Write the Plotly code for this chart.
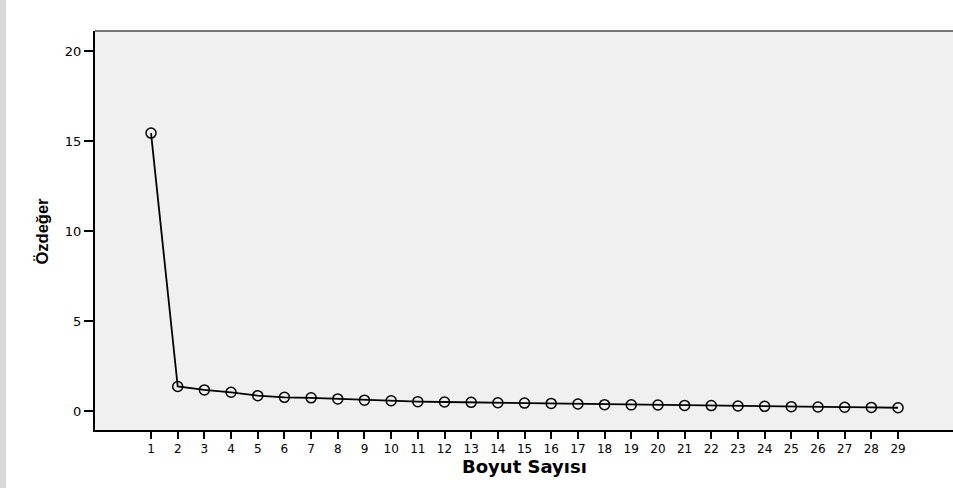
import plotly.graph_objects as go

components = list(range(1, 30))
eigenvalues = [15.44, 1.36, 1.17, 1.04, 0.85, 0.76, 0.73, 0.67, 0.60, 0.57,
               0.52, 0.50, 0.48, 0.46, 0.44, 0.42, 0.39, 0.35, 0.34, 0.33,
               0.31, 0.30, 0.28, 0.26, 0.24, 0.22, 0.21, 0.20, 0.18]
y_ticks = [0, 5, 10, 15, 20]

fig = go.Figure()
fig.add_trace(go.Scatter(
    x=components, y=eigenvalues, mode="lines+markers",
    line=dict(color="black", width=1.8),
    marker=dict(symbol="circle-open", size=10, color="black", line=dict(width=1.5)),
    showlegend=False, cliponaxis=False,
))

arial = "Arial, Liberation Sans, sans-serif"
wide = "DejaVu Sans, Verdana, sans-serif"

fig.update_layout(
    width=953, height=488,
    margin=dict(l=95, r=0, t=31, b=58),
    paper_bgcolor="white",
    plot_bgcolor="#f0f0f0",
    font=dict(family=wide, color="black", size=12),
    xaxis=dict(
        range=[-1.1, 31.06], tickmode="array", tickvals=components,
        ticktext=[str(c) for c in components],
        showgrid=False, zeroline=False, showline=True, linecolor="black", linewidth=2,
        ticks="outside", ticklen=7, tickwidth=2, tickcolor="black",
        tickfont=dict(size=12, family=wide),
    ),
    yaxis=dict(
        range=[-1.056, 21.11], tickmode="array", tickvals=y_ticks,
        showgrid=False, zeroline=False, showline=True, linecolor="black", linewidth=2,
        ticks="outside", ticklen=9, tickwidth=1.5, tickcolor="black",
        tickfont=dict(size=13, family=wide),
    ),
    shapes=[
        dict(type="line", xref="paper", yref="paper", x0=0, x1=1, y0=1, y1=1,
             line=dict(color="#777777", width=2)),
        dict(type="rect", xref="paper", yref="paper", x0=-95/858, x1=-89/858,
             y0=-58/399, y1=1+31/399, line=dict(width=0), fillcolor="#d9d9d9", layer="below"),
    ],
    annotations=[
        dict(text="<b>Özdeğer</b>", xref="paper", yref="paper", x=-54/858, y=0.5,
             textangle=-90, showarrow=False, xanchor="center", yanchor="middle",
             font=dict(size=16.5, family=arial)),
        dict(text="<b>Boyut Sayısı</b>", xref="paper", yref="paper", x=0.501, y=-36/399,
             showarrow=False, xanchor="center", yanchor="middle",
             font=dict(size=18, family=wide)),
    ],
)

fig.write_html(
    "out.html",
    config={"displayModeBar": False},
    post_script="document.body.style.margin='0px';document.body.style.overflow='hidden';",
)
